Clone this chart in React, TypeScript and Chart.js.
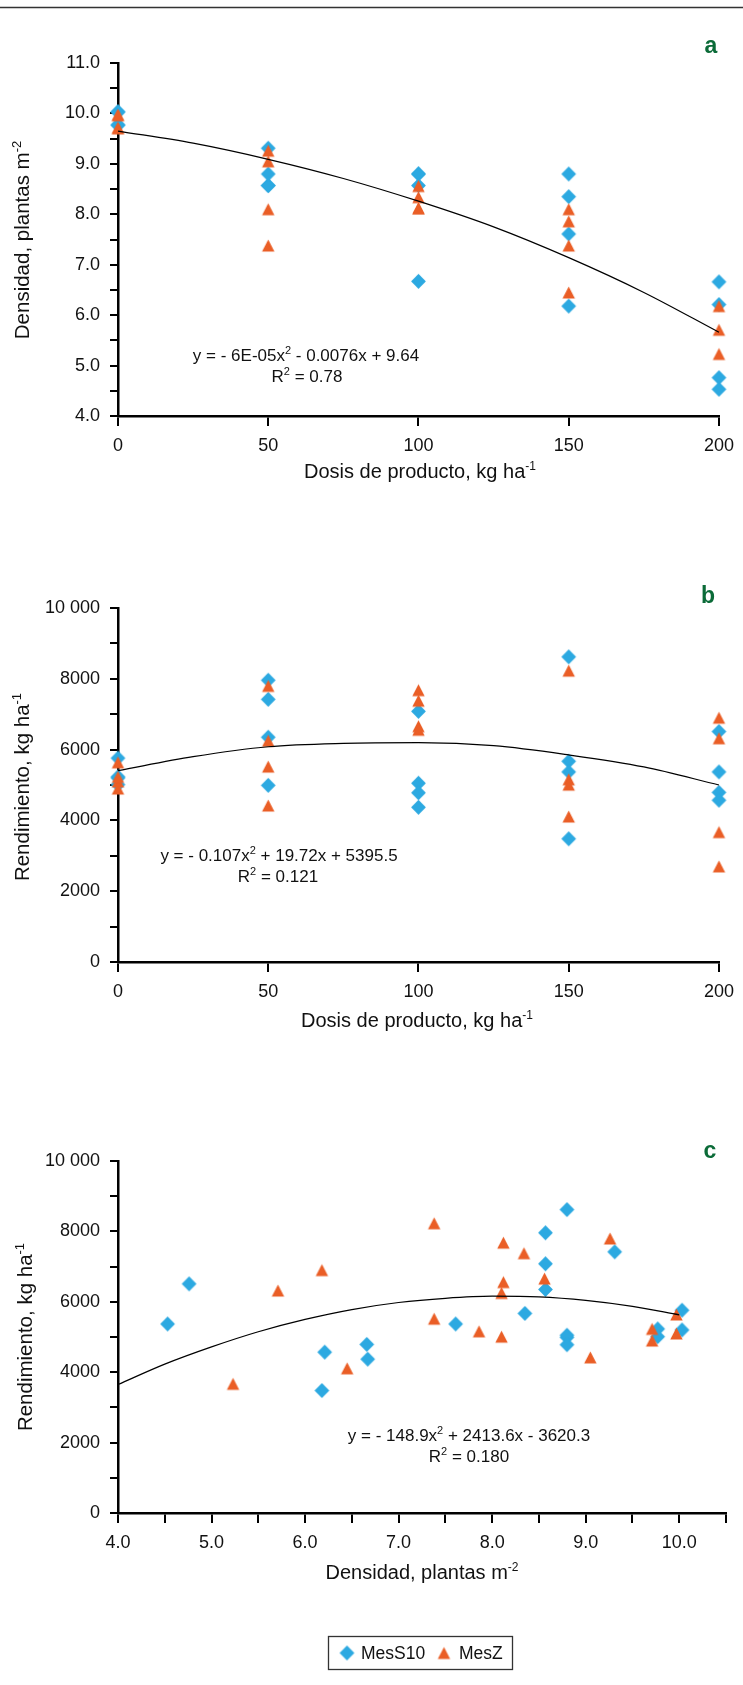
import React, { useEffect, useRef } from 'react';
import { Chart, registerables } from 'chart.js';

Chart.register(...registerables);

const FONT = '"Liberation Sans", Arial, Helvetica, sans-serif';
const BLUE = '#2CA9E1';
const ORANGE = '#EA5E26';
const GREEN = '#0B6B38';
const INK = '#111111';

const seriesNames = ['MesS10', 'MesZ'];

// MesS10 (blue diamonds): dose, density, yield per plot
const s10Dose = [0, 0, 0, 0, 50, 50, 50, 50, 100, 100, 100, 100, 150, 150, 150, 150, 200, 200, 200, 200];
const s10Density = [10.03, 10.03, 9.77, 9.77, 9.31, 8.57, 8.57, 8.8, 8.8, 8.8, 8.57, 6.67, 8.8, 8.35, 7.61, 6.18, 6.66, 6.21, 4.76, 4.53];
const s10Yield = [5760, 5200, 5230, 5010, 7420, 7960, 6350, 4990, 5050, 4780, 7080, 4370, 8620, 5670, 5370, 3480, 4790, 4570, 6510, 5370];

// MesZ (orange triangles)
const zDose = [0, 0, 0, 0, 50, 50, 50, 50, 100, 100, 100, 100, 150, 150, 150, 150, 200, 200, 200, 200];
const zDensity = [9.97, 9.97, 9.71, 9.71, 9.26, 9.05, 8.1, 7.38, 8.12, 8.34, 8.56, 8.12, 7.38, 7.86, 8.1, 6.45, 6.18, 5.71, 5.23, 3.8];
const zYield = [5640, 5100, 5230, 4900, 7800, 4420, 6250, 5520, 7680, 7380, 6660, 6560, 8230, 5160, 5010, 4110, 6900, 6320, 3670, 2700];

// fitted curves
const fitDose = [0, 25, 50, 75, 100, 125, 150, 175, 200];
const fitDensityByDose = [9.65, 9.41, 9.09, 8.71, 8.26, 7.75, 7.14, 6.45, 5.66];
const fitYieldByDose = [5405, 5800, 6080, 6175, 6195, 6110, 5850, 5510, 5000];
const fitDensity = [4, 4.5, 5, 5.5, 6, 6.5, 7, 7.5, 8, 8.5, 9, 9.5, 10];
const fitYieldByDensity = [3650, 4230, 4720, 5150, 5500, 5780, 5980, 6100, 6160, 6140, 6040, 5870, 5630];

type Seg = { t: string; sup?: boolean };

const xTitleDose: Seg[] = [{ t: 'Dosis de producto, kg ha' }, { t: '-1', sup: true }];
const xTitleDensity: Seg[] = [{ t: 'Densidad, plantas m' }, { t: '-2', sup: true }];
const yTitleDensity: Seg[] = [{ t: 'Densidad, plantas m' }, { t: '-2', sup: true }];
const yTitleYield: Seg[] = [{ t: 'Rendimiento, kg ha' }, { t: '-1', sup: true }];

const eqA: Seg[][] = [
  [{ t: 'y = - 6E-05x' }, { t: '2', sup: true }, { t: ' - 0.0076x + 9.64' }],
  [{ t: 'R' }, { t: '2', sup: true }, { t: ' = 0.78' }],
];
const eqB: Seg[][] = [
  [{ t: 'y = - 0.107x' }, { t: '2', sup: true }, { t: ' + 19.72x + 5395.5' }],
  [{ t: 'R' }, { t: '2', sup: true }, { t: ' = 0.121' }],
];
const eqC: Seg[][] = [
  [{ t: 'y = - 148.9x' }, { t: '2', sup: true }, { t: ' + 2413.6x - 3620.3' }],
  [{ t: 'R' }, { t: '2', sup: true }, { t: ' = 0.180' }],
];

const fmtDecimal = (v: number) => (Number.isInteger(v) ? v.toFixed(1) : '');
const fmtDose = (v: number) => String(v);
const fmtYield = (v: number) => (v % 2000 === 0 ? (v === 10000 ? '10 000' : String(v)) : '');

function drawRich(ctx: CanvasRenderingContext2D, segs: Seg[], x: number, y: number, size: number, align: 'center' | 'left' = 'center', color = INK) {
  const supSize = Math.round(size * 0.62);
  const widths = segs.map((s) => {
    ctx.font = `${s.sup ? supSize : size}px ${FONT}`;
    return ctx.measureText(s.t).width;
  });
  const total = widths.reduce((a, b) => a + b, 0);
  let cx = align === 'center' ? x - total / 2 : x;
  ctx.fillStyle = color;
  ctx.textAlign = 'left';
  ctx.textBaseline = 'alphabetic';
  segs.forEach((s, i) => {
    ctx.font = `${s.sup ? supSize : size}px ${FONT}`;
    ctx.fillText(s.t, cx, s.sup ? y - size * 0.4 : y);
    cx += widths[i];
  });
}

function makeDiamond(color: string) {
  const c = document.createElement('canvas');
  c.width = 17;
  c.height = 17;
  const g = c.getContext('2d')!;
  const m = 8.5;
  const r = 7.4;
  g.fillStyle = color;
  g.beginPath();
  g.moveTo(m, m - r);
  g.lineTo(m + r, m);
  g.lineTo(m, m + r);
  g.lineTo(m - r, m);
  g.closePath();
  g.fill();
  return c;
}

function makeTriangle(color: string) {
  const c = document.createElement('canvas');
  c.width = 15;
  c.height = 15;
  const g = c.getContext('2d')!;
  const m = 7.5;
  const w = 12.4;
  const h = 11.8;
  g.fillStyle = color;
  g.beginPath();
  g.moveTo(m, m - h / 2);
  g.lineTo(m + w / 2, m + h / 2);
  g.lineTo(m - w / 2, m + h / 2);
  g.closePath();
  g.fill();
  return c;
}

type Panel = {
  top: number;
  height: number;
  padTop: number;
  xHeight: number;
  bx: number[]; by: number[]; ox: number[]; oy: number[]; fx: number[]; fy: number[];
  xMin: number; xMax: number; xStep: number; xFmt: (v: number) => string;
  yMin: number; yMax: number; yStep: number; yFmt: (v: number) => string;
  xTitle: Seg[]; xTitlePos: [number, number];
  yTitle: Seg[]; yTitlePos: [number, number];
  letter: string; letterPos: [number, number];
  eq: Seg[][]; eqPos: [number, number][];
  topRule?: boolean;
  legend?: boolean;
};

const panels: Panel[] = [
  {
    top: 0, height: 540, padTop: 63, xHeight: 124,
    bx: s10Dose, by: s10Density, ox: zDose, oy: zDensity, fx: fitDose, fy: fitDensityByDose,
    xMin: 0, xMax: 200, xStep: 50, xFmt: fmtDose,
    yMin: 4, yMax: 11, yStep: 0.5, yFmt: fmtDecimal,
    xTitle: xTitleDose, xTitlePos: [420, 478],
    yTitle: yTitleDensity, yTitlePos: [29, 240],
    letter: 'a', letterPos: [711, 53],
    eq: eqA, eqPos: [[306, 361], [307, 382]],
    topRule: true,
  },
  {
    top: 540, height: 560, padTop: 68, xHeight: 138,
    bx: s10Dose, by: s10Yield, ox: zDose, oy: zYield, fx: fitDose, fy: fitYieldByDose,
    xMin: 0, xMax: 200, xStep: 50, xFmt: fmtDose,
    yMin: 0, yMax: 10000, yStep: 1000, yFmt: fmtYield,
    xTitle: xTitleDose, xTitlePos: [417, 487],
    yTitle: yTitleYield, yTitlePos: [29, 247],
    letter: 'b', letterPos: [708, 63],
    eq: eqB, eqPos: [[279, 321], [278, 342]],
  },
  {
    top: 1100, height: 585, padTop: 61, xHeight: 172,
    bx: s10Density, by: s10Yield, ox: zDensity, oy: zYield, fx: fitDensity, fy: fitYieldByDensity,
    xMin: 4, xMax: 10.5, xStep: 0.5, xFmt: fmtDecimal,
    yMin: 0, yMax: 10000, yStep: 1000, yFmt: fmtYield,
    xTitle: xTitleDensity, xTitlePos: [422, 479],
    yTitle: yTitleYield, yTitlePos: [32, 237],
    letter: 'c', letterPos: [710, 58],
    eq: eqC, eqPos: [[469, 341], [469, 362]],
    legend: true,
  },
];

function pts(xs: number[], ys: number[]) {
  return xs.map((x, i) => ({ x, y: ys[i] }));
}

function axis(min: number, max: number, step: number, fmt: (v: number) => string, tickLength: number, padding: number, fit: (s: any) => void) {
  return {
    type: 'linear' as const,
    min,
    max,
    afterFit: fit,
    ticks: {
      stepSize: step,
      autoSkip: false,
      maxRotation: 0,
      minRotation: 0,
      padding,
      color: INK,
      font: { family: FONT, size: 18 },
      callback: (v: any) => fmt(Number(v)),
    },
    grid: {
      drawOnChartArea: false,
      drawTicks: true,
      tickLength,
      color: '#000',
      lineWidth: 2,
    },
    border: { display: true, color: '#000', width: 2.5 },
  };
}

function buildChart(canvas: HTMLCanvasElement, p: Panel, diamond: HTMLCanvasElement, triangle: HTMLCanvasElement) {
  const decor = {
    id: 'decor' + p.letter,
    afterDraw(chart: any) {
      const ctx: CanvasRenderingContext2D = chart.ctx;
      ctx.save();
      if (p.topRule) {
        ctx.strokeStyle = '#333';
        ctx.lineWidth = 1.5;
        ctx.beginPath();
        ctx.moveTo(0, 7.5);
        ctx.lineTo(743, 7.5);
        ctx.stroke();
      }
      // x title
      drawRich(ctx, p.xTitle, p.xTitlePos[0], p.xTitlePos[1], 20);
      // y title
      ctx.save();
      ctx.translate(p.yTitlePos[0], p.yTitlePos[1]);
      ctx.rotate(-Math.PI / 2);
      drawRich(ctx, p.yTitle, 0, 0, 20.5);
      ctx.restore();
      // panel letter
      ctx.font = `bold 23px ${FONT}`;
      ctx.fillStyle = GREEN;
      ctx.textAlign = 'center';
      ctx.textBaseline = 'alphabetic';
      ctx.fillText(p.letter, p.letterPos[0], p.letterPos[1]);
      // equation
      p.eq.forEach((line, i) => drawRich(ctx, line, p.eqPos[i][0], p.eqPos[i][1], 17));
      // legend
      if (p.legend) {
        ctx.strokeStyle = '#333';
        ctx.lineWidth = 1.3;
        ctx.strokeRect(328.5, 536.5, 184, 33);
        ctx.drawImage(diamond, 347 - diamond.width / 2, 553 - diamond.height / 2);
        ctx.drawImage(triangle, 444 - triangle.width / 2, 553 - triangle.height / 2);
        ctx.font = `17.5px ${FONT}`;
        ctx.fillStyle = INK;
        ctx.textAlign = 'left';
        ctx.fillText(seriesNames[0], 361, 559);
        ctx.fillText(seriesNames[1], 459, 559);
      }
      ctx.restore();
    },
  };

  return new Chart(canvas, {
    type: 'scatter',
    data: {
      datasets: [
        {
          label: seriesNames[0],
          data: pts(p.bx, p.by),
          pointStyle: diamond as any,
          pointRadius: 7.5,
          pointBorderWidth: 0,
          backgroundColor: BLUE,
          borderColor: BLUE,
          clip: false,
          order: 2,
        } as any,
        {
          label: seriesNames[1],
          data: pts(p.ox, p.oy),
          pointStyle: triangle as any,
          pointRadius: 7,
          pointBorderWidth: 0,
          backgroundColor: ORANGE,
          borderColor: ORANGE,
          clip: false,
          order: 1,
        } as any,
        {
          label: 'fit',
          data: pts(p.fx, p.fy),
          showLine: true,
          pointRadius: 0,
          borderColor: '#000',
          borderWidth: 1.2,
          tension: 0.4,
          cubicInterpolationMode: 'monotone',
          clip: 4,
          order: 0,
        } as any,
      ],
    },
    options: {
      responsive: false,
      animation: false,
      events: [],
      layout: { padding: { left: 0, right: 17, top: p.padTop, bottom: 0 } },
      plugins: {
        legend: { display: false },
        tooltip: { enabled: false },
        title: { display: false },
      },
      scales: {
        x: axis(p.xMin, p.xMax, p.xStep, p.xFmt, 10, 9, (s: any) => { s.height = p.xHeight; }) as any,
        y: axis(p.yMin, p.yMax, p.yStep, p.yFmt, 8, 10, (s: any) => { s.width = 118; }) as any,
      },
    },
    plugins: [decor],
  });
}

export default function App() {
  const refs = [useRef<HTMLCanvasElement>(null), useRef<HTMLCanvasElement>(null), useRef<HTMLCanvasElement>(null)];

  useEffect(() => {
    const diamond = makeDiamond(BLUE);
    const triangle = makeTriangle(ORANGE);
    const charts = panels.map((p, i) => buildChart(refs[i].current!, p, diamond, triangle));
    return () => charts.forEach((c) => c.destroy());
  }, []);

  return (
    <div style={{ position: 'absolute', left: 0, top: 0, width: 743, height: 1685, background: '#fff', overflow: 'hidden' }}>
      {panels.map((p, i) => (
        <canvas
          key={p.letter}
          ref={refs[i]}
          width={743}
          height={p.height}
          style={{ position: 'absolute', left: 0, top: p.top, width: 743, height: p.height }}
        />
      ))}
    </div>
  );
}
